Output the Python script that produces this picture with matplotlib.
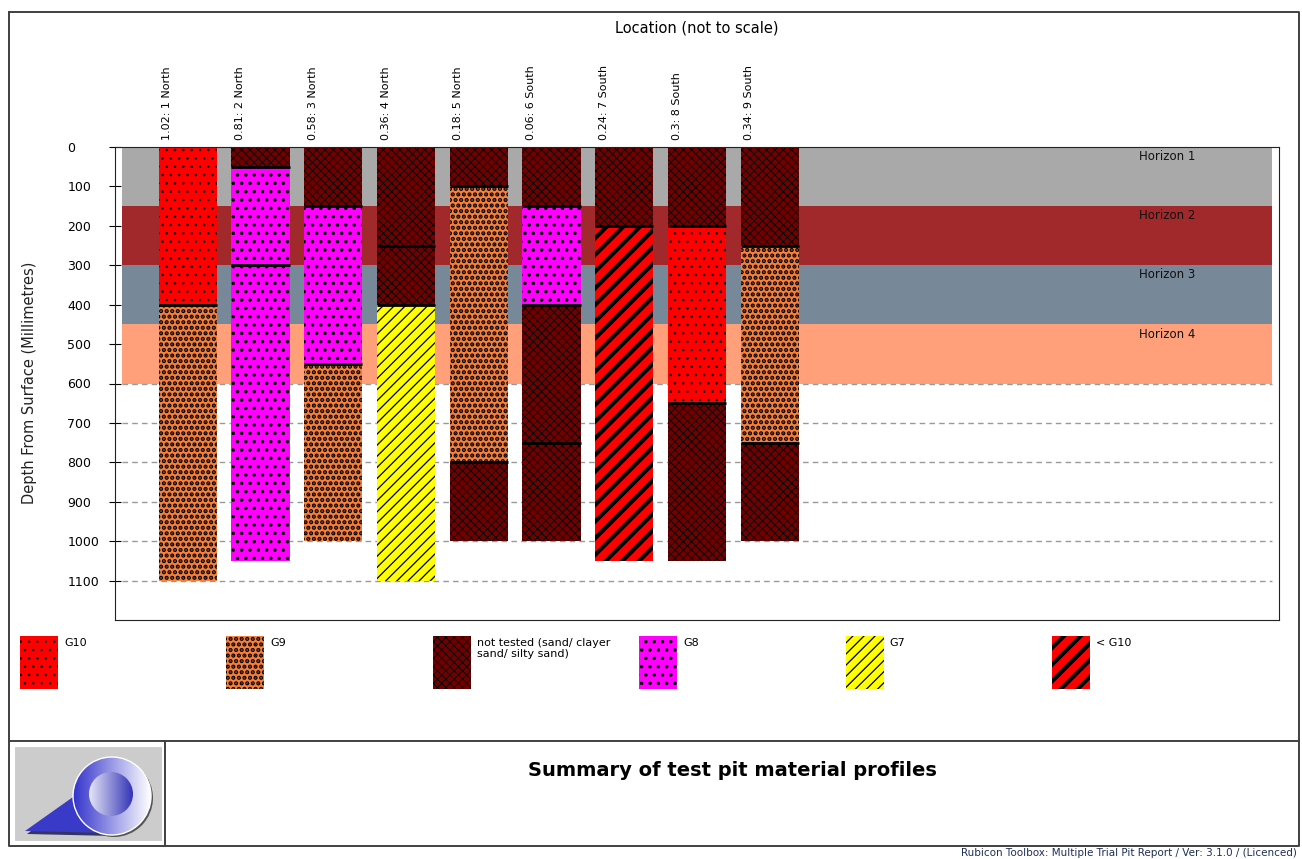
import numpy as np
import matplotlib
matplotlib.use("Agg")
import matplotlib.pyplot as plt
from matplotlib.patches import Rectangle, Polygon, Circle

# pit labels (top of chart)
pit_labels = ["1.02: 1 North", "0.81: 2 North", "0.58: 3 North", "0.36: 4 North",
              "0.18: 5 North", "0.06: 6 South", "0.24: 7 South", "0.3: 8 South",
              "0.34: 9 South"]

# layer tops per pit (mm), last depth of each pit, and materials of each layer
pit_tops = [[0, 400], [0, 50, 300], [0, 150, 550], [0, 250, 400], [0, 100, 800],
            [0, 150, 400, 750], [0, 200], [0, 200, 650], [0, 250, 750]]
pit_depths = [1100, 1050, 1000, 1100, 1000, 1000, 1050, 1050, 1000]
pit_materials = [["G10", "G9"], ["NT", "G8", "G8"], ["NT", "G8", "G9"],
                 ["NT", "NT", "G7"], ["NT", "G9", "NT"], ["NT", "G8", "NT", "NT"],
                 ["NT", "LG10"], ["NT", "G10", "NT"], ["NT", "G9", "NT"]]

# horizons
horizon_names = ["Horizon 1", "Horizon 2", "Horizon 3", "Horizon 4"]
horizon_tops = [0, 150, 300, 450]
horizon_bottoms = [150, 300, 450, 600]
horizon_colors = ["#A9A9A9", "#A1292B", "#778899", "#FFA07A"]

# legend / material styles
material_keys = ["G10", "G9", "NT", "G8", "G7", "LG10"]
material_labels = ["G10", "G9", "not tested (sand/ clayer\nsand/ silty sand)", "G8", "G7", "< G10"]
material_colors = {"G10": "#FF0000", "G9": "#F5803E", "NT": "#720000",
                   "G8": "#FF00FF", "G7": "#FFFF00", "LG10": "#FF0000"}
material_hatch = {"G10": "..", "G9": "...", "NT": "xxxx", "G8": "..",
                  "G7": "///", "LG10": "//"}
material_hlw = {"G10": 0.6, "G9": 2.1, "NT": 0.6, "G8": 1.3, "G7": 0.9, "LG10": 3.0}

y_ticks = list(range(0, 1200, 100))

plt.rcParams["font.family"] = "DejaVu Sans"

W, H = 1302, 859
fig = plt.figure(figsize=(W / 100, H / 100), dpi=100)

# background overlay in pixel coordinates
bg = fig.add_axes([0, 0, 1, 1], zorder=0)
bg.set_xlim(0, W)
bg.set_ylim(H, 0)
bg.axis("off")

ax = fig.add_axes([115 / W, 1 - 620 / H, (1279 - 115) / W, (620 - 147) / H], zorder=1)
ax.set_xlim(0, 16)
ax.set_ylim(1200, 0)

# horizon bands
for name, top, bot, col in zip(horizon_names, horizon_tops, horizon_bottoms, horizon_colors):
    ax.add_patch(Rectangle((0.1, top), 15.8, bot - top, facecolor=col, edgecolor="none", zorder=1))
    ax.text(14.46, top + 8, name, ha="center", va="top", fontsize=8.5, color="#111111", zorder=3)

# dashed grid lines
grid_y = [y for y in y_ticks if y >= 600]
ax.hlines(grid_y, 0.1, 15.9, colors="#999999", linestyles=(0, (4, 3)), lw=1, zorder=1.5)

# pits
x = np.arange(1, len(pit_labels) + 1)
for xi, tops, depth, mats in zip(x, pit_tops, pit_depths, pit_materials):
    bots = tops[1:] + [depth]
    for t, b, m in zip(tops, bots, mats):
        with plt.rc_context({"hatch.linewidth": material_hlw[m]}):
            ax.bar(xi, b - t, bottom=t, width=0.8, color=material_colors[m],
                   hatch=material_hatch[m], edgecolor="black", linewidth=0, zorder=2)
    for t in tops[1:]:
        ax.hlines(t, xi - 0.4, xi + 0.4, colors="black", lw=2, zorder=2.5)

# pit labels on top
for xi, lab in zip(x, pit_labels):
    ax.text(xi - 0.28, 1 + 7 / 473, lab, transform=ax.get_xaxis_transform(),
            rotation=90, ha="center", va="bottom", fontsize=8)

ax.set_xticks([])
ax.set_yticks(y_ticks)
ax.tick_params(axis="y", direction="inout", length=8.6, pad=30, labelsize=9)
for lab in ax.get_yticklabels():
    lab.set_horizontalalignment("left")
for s in ax.spines.values():
    s.set_color("#222222")

fig.text(697 / W, 1 - 28 / H, "Location (not to scale)", ha="center", va="center", fontsize=10.5)
fig.text(30 / W, 1 - 383 / H, "Depth From Surface (Millimetres)", rotation=90,
         ha="center", va="center", fontsize=10.5, color="#222222")

# legend
for i, (k, lab) in enumerate(zip(material_keys, material_labels)):
    x0 = 20 + i * 206.4
    with plt.rc_context({"hatch.linewidth": material_hlw[k]}):
        bg.add_patch(Rectangle((x0, 636), 38, 53, facecolor=material_colors[k],
                               hatch=material_hatch[k], edgecolor="black", linewidth=0))
    bg.text(x0 + 44, 638, lab, ha="left", va="top", fontsize=8, linespacing=1.1)

# frames
bg.plot([9, 1299, 1299, 9, 9], [12, 12, 846, 846, 12], color="#404040", lw=1.4)
bg.plot([9, 1299], [741, 741], color="#404040", lw=1.4)
bg.plot([165, 165], [741, 846], color="#404040", lw=1.4)

# logo
bg.add_patch(Rectangle((14, 746), 149, 96, facecolor="#CCCCCC", edgecolor="white", lw=1.5))
bg.add_patch(Polygon([(27, 834), (75, 799), (114, 836)], closed=True, facecolor="#333366",
                     edgecolor="none"))
bg.add_patch(Polygon([(25, 831), (73, 797), (112, 833)], closed=True, facecolor="#3A3AC8",
                     edgecolor="none"))
bg.add_patch(Circle((114, 798), 39, facecolor="#555555", edgecolor="none"))
grad = np.linspace(0, 1, 256).reshape(1, -1)
outer = Circle((112, 796), 39, transform=bg.transData)
im = bg.imshow(grad, extent=(73, 151, 835, 757), cmap=matplotlib.colors.LinearSegmentedColormap.from_list(
    "o", ["#3333CC", "#9999E6", "#FFFFFF"]), aspect="auto", zorder=2)
im.set_clip_path(outer)
bg.add_patch(Circle((112, 796), 39, facecolor="none", edgecolor="white", lw=1, zorder=3))
inner = Circle((111, 794), 22, transform=bg.transData)
im2 = bg.imshow(grad, extent=(89, 133, 816, 772), cmap=matplotlib.colors.LinearSegmentedColormap.from_list(
    "i", ["#E6E6F7", "#3333B8"]), aspect="auto", zorder=3)
im2.set_clip_path(inner)
bg.set_xlim(0, W)
bg.set_ylim(H, 0)

bg.text(732, 770, "Summary of test pit material profiles", ha="center", va="center",
        fontsize=14, fontweight="bold")
bg.text(1297, 853, "Rubicon Toolbox: Multiple Trial Pit Report / Ver: 3.1.0 / (Licenced)",
        ha="right", va="center", fontsize=7.5, color="#1F2F55")

fig.savefig("out.png", dpi=100)
